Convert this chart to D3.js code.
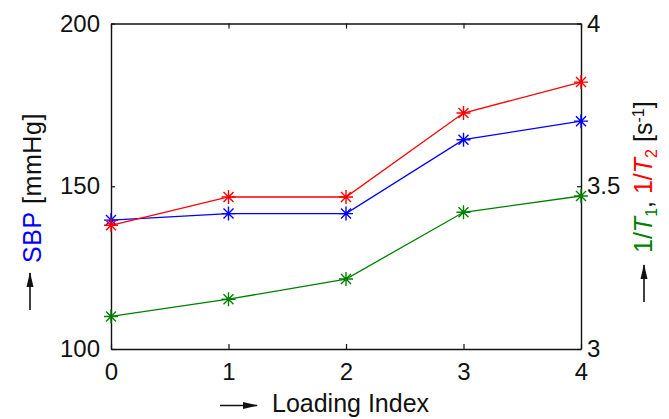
<!DOCTYPE html>
<html>
<head>
<meta charset="utf-8">
<script src="https://cdn.jsdelivr.net/npm/d3@7"></script>
<style>
  body { margin: 0; background: #fff; }
  text { font-family: "Liberation Sans", Arial, sans-serif; fill: #111; }
</style>
</head>
<body>
<svg id="chart" width="669" height="419"></svg>
<script>
// Chart values
var loadingIndex = [0, 1, 2, 3, 4];
var sbp = [139.6, 141.6, 141.6, 164.3, 170.0];        // left axis, mmHg
var invT1 = [3.10, 3.153, 3.215, 3.42, 3.47];          // right axis, s-1
var invT2 = [3.38, 3.467, 3.467, 3.725, 3.82];         // right axis, s-1
var xTicks = [0, 1, 2, 3, 4];
var leftTicks = [100, 150, 200];
var rightTicks = [3, 3.5, 4];

var svg = d3.select("#chart");
var padding = {top: 23.5, right: 88, bottom: 70, left: 111};
var width = +svg.attr("width");
var height = +svg.attr("height");
var fontSize = 24;
var labelSize = 25;

var xScale = d3.scaleLinear()
               .domain([0, 4])
               .range([padding.left, width - padding.right]);

var yLeft = d3.scaleLinear()
              .domain([100, 200])
              .range([height - padding.bottom, padding.top]);

var yRight = d3.scaleLinear()
               .domain([3, 4])
               .range([height - padding.bottom, padding.top]);

// Axes (ticks pointing inward, MATLAB style)
function styleAxis(g) {
    g.selectAll(".domain").attr("stroke", "#111").attr("stroke-width", 1.4);
    g.selectAll(".tick line").attr("stroke", "#111").attr("stroke-width", 1.2);
    g.selectAll(".tick text").style("font-size", fontSize + "px").attr("fill", "#111");
}

svg.append("g")
   .attr("transform", "translate(0," + (height - padding.bottom) + ")")
   .call(d3.axisBottom(xScale).tickValues(xTicks).tickSize(-5).tickSizeOuter(0).tickPadding(14).tickFormat(d3.format("d")))
   .call(styleAxis);

svg.append("g")
   .attr("transform", "translate(0," + padding.top + ")")
   .call(d3.axisTop(xScale).tickValues(xTicks).tickSize(-5).tickSizeOuter(0).tickFormat(""))
   .call(styleAxis);

svg.append("g")
   .attr("transform", "translate(" + padding.left + ",0)")
   .call(d3.axisLeft(yLeft).tickValues(leftTicks).tickSize(-4).tickSizeOuter(0).tickPadding(11))
   .call(styleAxis);

svg.append("g")
   .attr("transform", "translate(" + (width - padding.right) + ",0)")
   .call(d3.axisRight(yRight).tickValues(rightTicks).tickSize(-4).tickSizeOuter(0).tickPadding(6).tickFormat(function(d) {return String(d);}))
   .call(styleAxis);

// Series
var series = [
    {values: sbp, scale: yLeft, color: "#0000ff"},
    {values: invT2, scale: yRight, color: "#ff0000"},
    {values: invT1, scale: yRight, color: "#008000"}
];

// Asterisk marker path centred on (cx, cy)
function asterisk(cx, cy) {
    var r = 7, d = 5;
    return "M" + (cx - r) + "," + cy + "H" + (cx + r) +
           "M" + cx + "," + (cy - r) + "V" + (cy + r) +
           "M" + (cx - d) + "," + (cy - d) + "L" + (cx + d) + "," + (cy + d) +
           "M" + (cx - d) + "," + (cy + d) + "L" + (cx + d) + "," + (cy - d);
}

series.forEach(function(s) {
    var pts = loadingIndex.map(function(x, i) {return {x: x, y: s.values[i]};});
    var line = d3.line()
                 .x(function(d) {return xScale(d.x);})
                 .y(function(d) {return s.scale(d.y);});

    svg.append("path")
       .datum(pts)
       .attr("d", line)
       .attr("fill", "none")
       .attr("stroke", s.color)
       .attr("stroke-width", 1.3);

    svg.selectAll(null)
       .data(pts)
       .enter()
       .append("path")
       .attr("d", function(d) {return asterisk(xScale(d.x), s.scale(d.y));})
       .attr("stroke", s.color)
       .attr("stroke-width", 1.4)
       .attr("fill", "none");
});

// Long arrow pointing right, drawn in a local frame then rotated
function arrow(x, y, angle) {
    var g = svg.append("g")
               .attr("transform", "translate(" + x + "," + y + ") rotate(" + angle + ")");
    g.append("line")
     .attr("x1", 0).attr("y1", 0).attr("x2", 37).attr("y2", 0)
     .attr("stroke", "#111").attr("stroke-width", 1.6);
    g.append("path")
     .attr("d", "M23,-3.5 L38,0 L23,3.5 Z")
     .attr("fill", "#111");
}

// X-axis label
arrow(220, 405.5, 0);
svg.append("text")
   .attr("x", 272)
   .attr("y", 412)
   .style("font-size", labelSize + "px")
   .text("Loading Index");

// Left y-axis label
arrow(30, 310, -90);
var leftLabel = svg.append("text")
   .attr("transform", "translate(41,263) rotate(-90)")
   .style("font-size", labelSize + "px")
   .style("letter-spacing", "0.6px");
leftLabel.append("tspan").style("fill", "#0000ff").text("SBP");
leftLabel.append("tspan").text(" [mmHg]");

// Right y-axis label
arrow(644, 302, -90);
var rightLabel = svg.append("text")
   .attr("transform", "translate(652,253) rotate(-90)")
   .style("font-size", labelSize + "px");
rightLabel.append("tspan").style("fill", "#008000").text("1/");
rightLabel.append("tspan").style("fill", "#008000").style("font-style", "italic").text("T");
rightLabel.append("tspan").style("fill", "#008000").style("font-size", "16px").attr("dy", 5).text("1");
rightLabel.append("tspan").attr("dy", -5).text(", ");
rightLabel.append("tspan").style("fill", "#ff0000").text("1/");
rightLabel.append("tspan").style("fill", "#ff0000").style("font-style", "italic").text("T");
rightLabel.append("tspan").style("fill", "#ff0000").style("font-size", "16px").attr("dy", 5).text("2");
rightLabel.append("tspan").attr("dy", -5).text(" [s");
rightLabel.append("tspan").style("font-size", "16px").attr("dy", -8).text("-1");
rightLabel.append("tspan").attr("dy", 8).text("]");
</script>
</body>
</html>
